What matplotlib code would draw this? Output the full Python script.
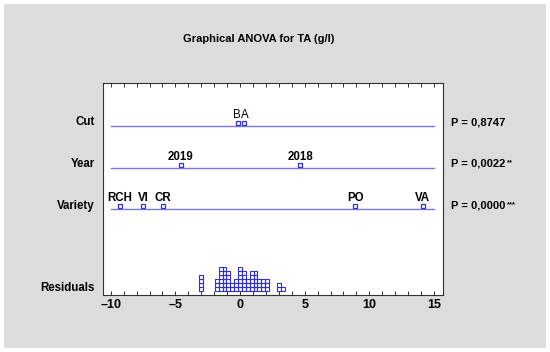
import numpy as np
import matplotlib
matplotlib.use("Agg")
import matplotlib.pyplot as plt
from matplotlib.patches import Rectangle

plt.rcParams['font.family'] = ['Liberation Sans', 'DejaVu Sans']

# ---- data ----
title = "Graphical ANOVA for TA (g/l)"
factors = ["Cut", "Year", "Variety"]
p_values = ["P = 0,8747", "P = 0,0022", "P = 0,0000"]
p_stars = ["", "**", "***"]

cut_labels = ["B", "A"]
cut_values = [-0.18, 0.29]
year_labels = ["2019", "2018"]
year_values = [-4.6, 4.64]
variety_labels = ["RCH", "VI", "CR", "PO", "VA"]
variety_values = [-9.28, -7.48, -5.98, 8.92, 14.13]

residuals = [
    -2.98, -3.01, -2.99, -3.02,
    -1.79, -1.81, -1.80,
    -1.49, -1.51, -1.50, -1.52, -1.48, -1.50,
    -1.19, -1.21, -1.20, -1.22, -1.18, -1.20,
    -0.89, -0.91, -0.90, -0.92, -0.88,
    -0.59, -0.61,
    -0.29, -0.31, -0.30,
    0.01, -0.01, 0.02, -0.02, 0.00, 0.03,
    0.29, 0.31, 0.30, 0.32, 0.28,
    0.59, 0.61, 0.60,
    0.89, 0.91, 0.90, 0.92, 0.88,
    1.19, 1.21, 1.20, 1.22, 1.18,
    1.49, 1.51, 1.50,
    1.79, 1.81, 1.80,
    2.09, 2.11, 2.10,
    2.99, 3.01,
    3.30,
]

xticks = [-10, -5, 0, 5, 10, 15]
xtick_labels = ["\u201310", "\u20135", "0", "5", "10", "15"]

# ---- figure ----
W, H = 550, 352
fig = plt.figure(figsize=(W / 100, H / 100), dpi=100, facecolor="white")
fig.patches.append(Rectangle((4 / W, 4 / H), 542 / W, 344 / H, transform=fig.transFigure,
                             facecolor="#dcdcdc", edgecolor="none", zorder=-10))

ax_l, ax_r, ax_t, ax_b = 103, 443, 83, 295
ax = fig.add_axes([ax_l / W, 1 - ax_b / H, (ax_r - ax_l) / W, (ax_b - ax_t) / H])
ax.set_facecolor("white")
ax.set_xlim(-10.6, 15.7)
ax_h = ax_b - ax_t
ax.set_ylim(0, ax_h)
for s in ax.spines.values():
    s.set_color("#333333")
    s.set_linewidth(0.8)

row_y = {"Cut": ax_b - 126, "Year": ax_b - 168, "Variety": ax_b - 209}
line_color = "#7878e0"
mark_color = "#3030d0"

rows = [("Cut", cut_labels, cut_values, "normal"),
        ("Year", year_labels, year_values, "bold"),
        ("Variety", variety_labels, variety_values, "bold")]
for name, labs, vals, fw in rows:
    y = row_y[name]
    ax.plot([-10, 15], [y, y], color=line_color, lw=1.0, zorder=2)
    ax.plot(vals, [y + 3.5] * len(vals), ls="none", marker="s", ms=3.4,
            mfc="white", mec=mark_color, mew=0.9, zorder=3)
    for i, (lab, v) in enumerate(zip(labs, vals)):
        dx = 0.0
        if name == "Cut":
            dx = -0.6 if i == 0 else 0.6
        ax.annotate(lab, xy=(v, y + 11), xytext=(dx, 0), textcoords="offset points",
                    ha="center", va="center", fontsize=8.3,
                    fontweight=fw, color="black", zorder=4)

# residual stacked squares
w = 0.3
sq_h = 4.0
base = 4.0
bins = np.round(np.array(residuals) / w).astype(int)
counts = {}
for b in bins:
    k = counts.get(b, 0)
    ax.bar(b * w, sq_h, bottom=base + k * sq_h, width=w, facecolor="none",
           edgecolor=mark_color, linewidth=0.8, zorder=3)
    counts[b] = k + 1

# ticks
ax.set_xticks(xticks)
ax.set_xticklabels(xtick_labels, fontsize=9, fontweight="bold")
ax.set_xticks(np.arange(-10, 16, 1), minor=True)
ax.tick_params(axis="x", which="both", direction="in", top=True, bottom=True,
               length=3, width=0.7, color="#333333", pad=3)
ax.set_yticks([])

# row labels and p-values (figure pixel coordinates)
def fig_text(x, y, s, **kw):
    return fig.text(x / W, 1 - y / H, s, **kw)

fig_text(259, 39, title, ha="center", va="center", fontsize=8, fontweight="bold")
label_y = {"Cut": 122, "Year": 164, "Variety": 206}
for name in factors:
    fig_text(95, label_y[name], name, ha="right", va="center", fontsize=8.3, fontweight="bold")
fig_text(95, 288, "Residuals", ha="right", va="center", fontsize=8.3, fontweight="bold")

for name, p, st in zip(factors, p_values, p_stars):
    t = fig_text(451, label_y[name], p, ha="left", va="center", fontsize=8, fontweight="bold")
    if st:
        ax.annotate(st, xy=(1, 0.95), xycoords=t, xytext=(1, 0), textcoords="offset points",
                    ha="left", va="top", fontsize=5.5, fontweight="bold", annotation_clip=False)

fig.savefig("out.png", dpi=100, facecolor=fig.get_facecolor())
